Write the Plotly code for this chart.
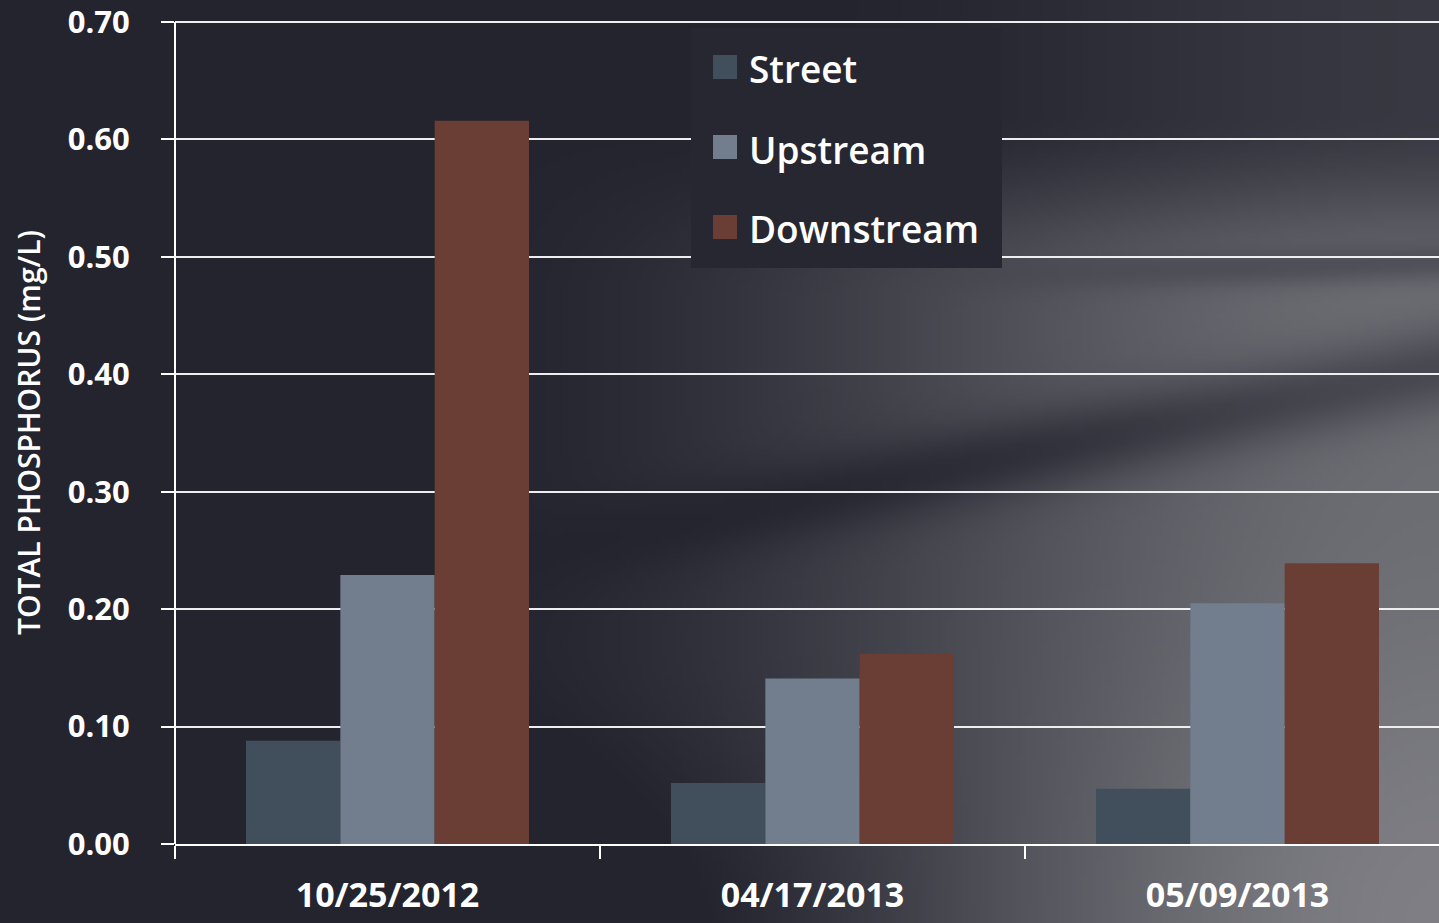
import base64, struct, zlib, math
import plotly.graph_objects as go

# ---------------- data ----------------
dates = ["10/25/2012", "04/17/2013", "05/09/2013"]
series_names = ["Street", "Upstream", "Downstream"]
street = [0.088, 0.052, 0.047]
upstream = [0.229, 0.141, 0.205]
downstream = [0.616, 0.162, 0.239]
y_ticks = [0.0, 0.1, 0.2, 0.3, 0.4, 0.5, 0.6, 0.7]
y_title = "TOTAL PHOSPHORUS (mg/L)"

colors = ["#414f5c", "#727e8e", "#6b3e35"]

# ---------------- geometry ----------------
W, H = 1439, 923
L_M, T_M, B_M = 175, 19, 79
PW, PH = W - L_M, H - T_M - B_M
CAT_PX = 425.0
Y_TOP = 0.7 * PH / (PH - 3)   # keep 0.70 gridline 3px inside plot area


def px_x(px):
    return (px - L_M) / PW


def px_y(py):
    return (H - B_M - py) / PH


# ---------------- background image (pure python PNG) ----------------
def smooth(a, b, x):
    t = min(1.0, max(0.0, (x - a) / (b - a)))
    return t * t * (3 - 2 * t)


dark = (35, 36, 46)
light = (126, 126, 132)
IW, IH = 288, 184
rows = []
for j in range(IH):
    v = (j + 0.5) / IH
    row = bytearray()
    for i in range(IW):
        u = (i + 0.5) / IW
        L = 0.0
        L += 0.8 * smooth(0.3, 1.0, u) * smooth(0.12, 0.32, v)
        L += 0.22 * smooth(0.55, 1.0, u) * (1 - smooth(0.12, 0.3, v))
        vd = 0.60 - (u - 0.37) * 0.317
        L -= 0.4 * math.exp(-((v - vd) / 0.045) ** 2) * smooth(0.3, 0.8, u)
        vd2 = 0.30 - (u - 0.7) * 0.05
        L -= 0.25 * math.exp(-((v - vd2) / 0.02) ** 2) * smooth(0.6, 0.95, u)
        L += 0.2 * smooth(0.6, 1.0, u) * smooth(0.5, 1.0, v)
        L -= 0.15 * smooth(0.7, 1.0, v) * (1 - smooth(0.45, 0.75, u))
        L = min(1.0, max(0.0, L))
        for c in range(3):
            row.append(int(round(dark[c] + (light[c] - dark[c]) * L)))
    rows.append(bytes(row))


def make_png(w, h, rows):
    raw = b"".join(b"\x00" + r for r in rows)

    def chunk(tag, data):
        c = struct.pack(">I", len(data)) + tag + data
        return c + struct.pack(">I", zlib.crc32(tag + data) & 0xFFFFFFFF)

    return (b"\x89PNG\r\n\x1a\n"
            + chunk(b"IHDR", struct.pack(">IIBBBBB", w, h, 8, 2, 0, 0, 0))
            + chunk(b"IDAT", zlib.compress(raw, 9))
            + chunk(b"IEND", b""))


bg_src = "data:image/png;base64," + base64.b64encode(make_png(IW, IH, rows)).decode()

# ---------------- figure ----------------
fig = go.Figure()
for name, vals, col in zip(series_names, [street, upstream, downstream], colors):
    fig.add_trace(go.Bar(
        x=dates, y=vals, name=name, marker=dict(color=col, line=dict(width=0)),
        showlegend=False,
    ))

FONT = "Open Sans"

fig.update_layout(
    width=W, height=H,
    margin=dict(l=L_M, r=0, t=T_M, b=B_M, pad=0, autoexpand=False),
    paper_bgcolor="#23242d",
    plot_bgcolor="rgba(0,0,0,0)",
    barmode="group",
    bargap=1 - 283 / CAT_PX,
    bargroupgap=0,
    font=dict(family=FONT, color="white"),
    images=[dict(
        source=bg_src, xref="paper", yref="paper",
        x=px_x(0), y=px_y(0), sizex=W / PW, sizey=H / PH,
        sizing="stretch", xanchor="left", yanchor="top", layer="below",
    )],
    xaxis=dict(
        type="category",
        range=[-0.5, -0.5 + PW / CAT_PX],
        tickson="boundaries",
        ticks="outside", ticklen=13, tickwidth=2, tickcolor="white",
        showline=True, linecolor="white", linewidth=2,
        showgrid=False, zeroline=False, automargin=False,
        tickfont=dict(family=FONT, size=34, color="white", weight="bold"),
        ticklabelstandoff=20,
    ),
    yaxis=dict(
        range=[0, Y_TOP],
        tickvals=y_ticks, tickformat=".2f",
        ticks="outside", ticklen=13, tickwidth=2, tickcolor="white",
        showline=False,
        showgrid=True, gridcolor="#eeeeee", gridwidth=2,
        zeroline=False, automargin=False,
        ticklabeloverflow="allow",
        tickfont=dict(family=FONT, size=31, color="white", weight="bold"),
        ticklabelstandoff=25,
    ),
)

# vertical y-axis line from the 0.70 gridline down to the x-axis
fig.add_shape(
    type="line", xref="paper", yref="y",
    x0=0, x1=0, y0=0, y1=y_ticks[-1],
    line=dict(color="white", width=2), layer="above",
)

# y-axis title
fig.add_annotation(
    text=y_title, xref="paper", yref="paper",
    x=px_x(28), y=px_y(433), xanchor="center", yanchor="middle",
    textangle=-90, showarrow=False,
    font=dict(family=FONT, size=30, color="white", weight=600),
)

# custom legend
fig.add_shape(
    type="rect", xref="paper", yref="paper",
    x0=px_x(691), x1=px_x(1002), y0=px_y(268), y1=px_y(28),
    fillcolor="#262730", line=dict(width=0), layer="above",
)
legend_y = [67, 147, 227]
for name, col, cy in zip(series_names, colors, legend_y):
    fig.add_shape(
        type="rect", xref="paper", yref="paper",
        x0=px_x(713), x1=px_x(737), y0=px_y(cy + 12), y1=px_y(cy - 12),
        fillcolor=col, line=dict(width=0), layer="above",
    )
    fig.add_annotation(
        text=name, xref="paper", yref="paper",
        x=px_x(747), y=px_y(cy + 2), xanchor="left", yanchor="middle",
        showarrow=False,
        font=dict(family=FONT, size=37, color="white", weight=600),
    )

fig.write_html(
    "out.html",
    config={"displayModeBar": False},
    post_script="document.body.style.margin='0';document.body.style.background='#23242d';",
)
